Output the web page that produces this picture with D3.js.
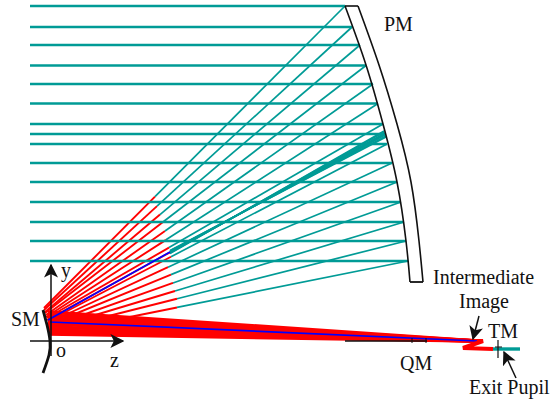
<!DOCTYPE html>
<html lang="en">

<head>
    <meta charset="UTF-8" />
    <title>Off-axis telescope ray trace</title>
    <script src="https://d3js.org/d3.v7.js"></script>
    <style>
        html, body { margin: 0; padding: 0; background: #fff; }
        svg { display: block; }
        text { font-family: "Liberation Serif", serif; fill: #111; }
    </style>
</head>

<body>
    <svg id="chart"></svg>
</body>

<script>
// all values in chart units, origin at "o", z to the right and y up
var rayStartZ = -21;
var pmHitZ = [294, 301, 309, 315, 322, 327, 332, 334, 336, 341, 346, 350, 353, 355, 357];
var pmHitY = [335, 314, 296, 275.5, 257, 237.5, 217, 207, 197, 178, 159, 139, 119, 100, 80];
var foldZ = [104, 106, 109, 112, 114, 115, 118, 119, 120, 117, 120, 122, 124, 126, 126];
var smHitZ = [-7, -7, -6, -6, -5, -5, -4, -4, -3, -3, -3, -2, -2, -2, -1];
var smHitY = [33, 31, 29, 28, 26, 24, 23, 21, 20, 18, 16, 14, 12, 10, 8];

// tight bundle around the chief ray, PM to fold
var chiefPmY = [210, 209, 208, 207, 206, 205, 204];
var chiefPmZ = [333, 333, 334, 334, 334, 335, 335];
var chiefFold = [119, 89];

// converging return beam, SM to the intermediate image
var beamStartY = [29, 26, 23, 20, 17, 14, 11, 9, 7];
var beamEnd = [426, 0];

var smZ = [-8, -4, -1, -2, -8];
var smY = [31, 16, 0, -14, -32];
var pmInnerZ = [294, 315, 332, 346, 355, 359];
var pmInnerY = [335, 276, 217, 159, 100, 59];
var pmOuterZ = [307, 328, 346, 360, 368, 372];
var pmOuterY = [335, 276, 217, 159, 100, 59];

var imageZ = [426, 432, 412, 442];
var imageY = [0, 0, -7, -8];
var exitZ = [442, 469];
var exitY = [-8, -8];

var labels = ["PM", "SM", "y", "o", "z", "Intermediate", "Image", "TM", "QM", "Exit Pupil"];
var labelZ = [333, -40, 10, 5, 59, 382, 408, 437, 349, 418];
var labelY = [310, 15, 64, -16, -26, 57, 33, 3, -29, -53];

var teal = "#009b96";
var width = 552, height = 404;

var x = d3.scaleLinear().domain([0, 100]).range([51, 151]);
var y = d3.scaleLinear().domain([0, 100]).range([341, 241]);

var svg = d3.select("#chart").attr("width", width).attr("height", height);

var defs = svg.append("defs");
defs.append("marker")
    .attr("id", "arrow")
    .attr("viewBox", "0 0 10 10")
    .attr("refX", 9).attr("refY", 5)
    .attr("markerUnits", "userSpaceOnUse")
    .attr("markerWidth", 14).attr("markerHeight", 14)
    .attr("orient", "auto")
    .append("path").attr("d", "M0,0L10,5L0,10L2.5,5Z").attr("fill", "#111");

function seg(z1, y1, z2, y2, color, w) {
    return svg.append("line")
        .attr("x1", x(z1)).attr("y1", y(y1))
        .attr("x2", x(z2)).attr("y2", y(y2))
        .attr("stroke", color).attr("stroke-width", w);
}

// the point on the PM -> SM line at a given z
function yAt(i, z) {
    var t = (z - smHitZ[i]) / (pmHitZ[i] - smHitZ[i]);
    return smHitY[i] + t * (pmHitY[i] - smHitY[i]);
}

// smooth curve through chart-unit points
var curve = d3.line().curve(d3.curveNatural)
    .x(function (d) { return x(d[0]); })
    .y(function (d) { return y(d[1]); });

// return beam first, it sits under everything else
beamStartY.forEach(function (d) {
    seg(-3, d, beamEnd[0], beamEnd[1], "#f00", 3.6);
});

pmHitZ.forEach(function (d, i) {
    seg(foldZ[i], yAt(i, foldZ[i]), smHitZ[i], smHitY[i], "#f00", 1.9);
    seg(d, pmHitY[i], foldZ[i], yAt(i, foldZ[i]), teal, 1.7);
});

chiefPmY.forEach(function (d, i) {
    seg(chiefPmZ[i], d, chiefFold[0], chiefFold[1] + (i - 3) * 0.5, teal, 1.6);
});

// incoming horizontal rays on top of the reflected ones
pmHitZ.forEach(function (d, i) {
    seg(rayStartZ, pmHitY[i], d, pmHitY[i], teal, 2.5);
});

// chief ray
seg(-3, 21, chiefFold[0], chiefFold[1], "#00f", 1.7);
seg(-1, 19, beamEnd[0], beamEnd[1], "#00f", 1.7);

// image plane and exit pupil
svg.append("path")
    .attr("d", d3.line().x(function (d) { return x(d[0]); }).y(function (d) { return y(d[1]); })(d3.zip(imageZ, imageY)))
    .attr("fill", "none").attr("stroke", "#f00").attr("stroke-width", 4);
seg(exitZ[0], exitY[0], exitZ[1], exitY[1], teal, 3.4);

// PM outline
svg.append("path")
    .attr("d", curve(d3.zip(pmInnerZ, pmInnerY)))
    .attr("fill", "none").attr("stroke", "#111").attr("stroke-width", 1.6);
svg.append("path")
    .attr("d", curve(d3.zip(pmOuterZ, pmOuterY)))
    .attr("fill", "none").attr("stroke", "#111").attr("stroke-width", 1.6);
seg(pmInnerZ[0], pmInnerY[0], pmOuterZ[0], pmOuterY[0], "#111", 1.6);
seg(pmInnerZ[5], pmInnerY[5], pmOuterZ[5], pmOuterY[5], "#111", 1.8);

// SM
svg.append("path")
    .attr("d", curve(d3.zip(smZ, smY)))
    .attr("fill", "none").attr("stroke", "#111").attr("stroke-width", 2.8);

// axes
seg(-21, 0, 72, 0, "#111", 1.5).attr("marker-end", "url(#arrow)");
seg(0, -15, 0, 76, "#111", 1.5).attr("marker-end", "url(#arrow)");

// QM and TM details
seg(294, 0, 376, 0, "#111", 1.3);
seg(361, 3, 361, -2, "#111", 1);
seg(375, 3, 375, -2, "#111", 1);
seg(447, 1, 447, -17, "#111", 1.2);
seg(444, -6, 451, -6, "#111", 1);

// label arrows
seg(428, 25, 422, 2, "#111", 1.5).attr("marker-end", "url(#arrow)");
seg(465, -37, 453, -11, "#111", 1.5).attr("marker-end", "url(#arrow)");

svg.selectAll("text.label")
    .data(labels)
    .enter()
    .append("text")
    .attr("class", "label")
    .attr("x", function (d, i) { return x(labelZ[i]); })
    .attr("y", function (d, i) { return y(labelY[i]); })
    .attr("font-size", 20)
    .text(function (d) { return d; });
</script>

</html>
